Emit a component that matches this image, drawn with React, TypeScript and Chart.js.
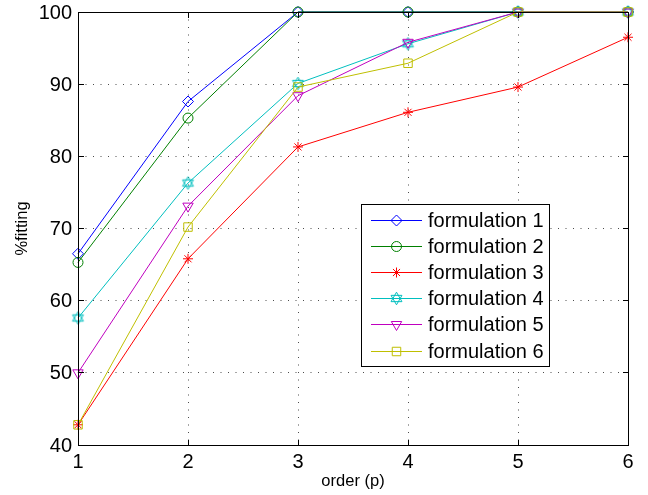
import React, { useEffect, useRef } from "react";
import { Chart, registerables } from "chart.js";
import { drawPoint } from "chart.js/helpers";

Chart.register(...registerables);

const orders = [1, 2, 3, 4, 5, 6];
const formulation1 = [66.5, 87.6, 100, 100, 100, 100];
const formulation2 = [65.3, 85.3, 100, 100, 100, 100];
const formulation3 = [42.8, 65.8, 81.3, 86.1, 89.6, 96.5];
const formulation4 = [57.6, 76.3, 90.1, 95.6, 100, 100];
const formulation5 = [50.0, 73.1, 88.4, 95.8, 100, 100];
const formulation6 = [42.8, 70.2, 89.6, 92.9, 100, 100];
const seriesLabels = [
  "formulation 1",
  "formulation 2",
  "formulation 3",
  "formulation 4",
  "formulation 5",
  "formulation 6",
];
const seriesColors = ["#0000FF", "#008000", "#FF0000", "#00BFBF", "#BF00BF", "#BFBF00"];
const xTicks = [1, 2, 3, 4, 5, 6];
const yTicks = [40, 50, 60, 70, 80, 90, 100];
const xTitle = "order (p)";
const yTitle = "%fitting";

const FONT = '"Liberation Sans", Arial, Helvetica, sans-serif';

function makeHexagram(color: string): HTMLCanvasElement {
  const c = document.createElement("canvas");
  c.width = 17;
  c.height = 17;
  const g = c.getContext("2d")!;
  g.strokeStyle = color;
  g.lineWidth = 1;
  const r = 6.3;
  const cx = 8.5;
  const cy = 8.5;
  for (const start of [-90, 90]) {
    g.beginPath();
    for (let k = 0; k < 3; k++) {
      const a = ((start + k * 120) * Math.PI) / 180;
      const px = cx + r * Math.cos(a);
      const py = cy + r * Math.sin(a);
      if (k === 0) g.moveTo(px, py);
      else g.lineTo(px, py);
    }
    g.closePath();
    g.stroke();
  }
  return c;
}

const align = (p: number) => Math.round(p - 0.5) + 0.5;

const framePlugin = {
  id: "matlabFrame",
  afterDraw(chart: any) {
    const ctx = chart.ctx as CanvasRenderingContext2D;
    const { left, right, top, bottom } = chart.chartArea;
    const xs = chart.scales.x;
    const ys = chart.scales.y;
    ctx.save();
    ctx.strokeStyle = "#000";
    ctx.lineWidth = 1;
    ctx.setLineDash([]);
    const L = align(left), R = align(right), T = align(top), B = align(bottom);
    ctx.strokeRect(L, T, R - L, B - T);
    const tl = 5.5;
    ctx.beginPath();
    for (const v of xTicks) {
      const px = align(xs.getPixelForValue(v));
      ctx.moveTo(px, B);
      ctx.lineTo(px, B - tl);
      ctx.moveTo(px, T);
      ctx.lineTo(px, T + tl);
    }
    for (const v of yTicks) {
      const py = align(ys.getPixelForValue(v));
      ctx.moveTo(L, py);
      ctx.lineTo(L + tl, py);
      ctx.moveTo(R, py);
      ctx.lineTo(R - tl, py);
    }
    ctx.stroke();

    // legend box
    const bl = 361.5, bt = 204.5, bw = 188, bh = 162;
    ctx.fillStyle = "#fff";
    ctx.fillRect(bl, bt, bw, bh);
    ctx.strokeStyle = "#000";
    ctx.strokeRect(bl, bt, bw, bh);
    const rowH = 26.1;
    chart.data.datasets.forEach((ds: any, i: number) => {
      const y = Math.round(220 + i * rowH) + 0.5;
      ctx.strokeStyle = ds.borderColor;
      ctx.lineWidth = 1;
      ctx.beginPath();
      ctx.moveTo(371, y);
      ctx.lineTo(422, y);
      ctx.stroke();
      ctx.fillStyle = "rgba(0,0,0,0)";
      drawPoint(
        ctx,
        {
          pointStyle: ds.pointStyle,
          rotation: ds.pointRotation || 0,
          radius: ds.pointRadius,
          borderWidth: 1,
        } as any,
        396.5,
        y
      );
      ctx.fillStyle = "#000";
      ctx.font = `20px ${FONT}`;
      ctx.textBaseline = "middle";
      ctx.textAlign = "left";
      ctx.fillText(ds.label, 428, y + 0.5);
    });
    ctx.restore();
  },
};

export default function App() {
  const ref = useRef<HTMLCanvasElement | null>(null);
  useEffect(() => {
    if (!ref.current) return;
    const series = [formulation1, formulation2, formulation3, formulation4, formulation5, formulation6];
    const styles: any[] = ["rectRot", "circle", "star", makeHexagram(seriesColors[3]), "triangle", "rect"];
    const radii = [5.5, 5, 5, 6, 6, 6];
    const rotations = [0, 0, 0, 0, 180, 0];
    const datasets = series.map((vals, i) => ({
      label: seriesLabels[i],
      data: orders.map((x, j) => ({ x, y: vals[j] })),
      borderColor: seriesColors[i],
      backgroundColor: "rgba(0,0,0,0)",
      borderWidth: 1,
      pointStyle: styles[i],
      pointRadius: radii[i],
      pointRotation: rotations[i],
      pointBorderColor: seriesColors[i],
      pointBackgroundColor: "rgba(0,0,0,0)",
      pointBorderWidth: 1,
      tension: 0,
      clip: false as any,
      order: 6 - i,
    }));
    const chart = new Chart(ref.current, {
      type: "line",
      data: { datasets },
      options: {
        animation: false,
        responsive: false,
        events: [],
        layout: { padding: { top: 12, right: 20, left: 0, bottom: 0 } },
        plugins: { legend: { display: false }, tooltip: { enabled: false } },
        scales: {
          x: {
            type: "linear",
            min: 1,
            max: 6,
            afterBuildTicks: (s: any) => {
              s.ticks = xTicks.map((v) => ({ value: v }));
            },
            afterFit: (s: any) => {
              s.height = 50;
              s.paddingLeft = 0;
              s.paddingRight = 0;
            },
            ticks: {
              color: "#000",
              font: { family: FONT, size: 20 },
              padding: 5,
              maxRotation: 0,
              autoSkip: false,
            },
            grid: { color: "rgba(0,0,0,0.7)", lineWidth: 1, drawTicks: false },
            border: { display: false, dash: [1, 6.5] },
            title: {
              display: true,
              text: xTitle,
              color: "#000",
              font: { family: FONT, size: 16.5 },
              padding: { top: 0, bottom: 4 },
            },
          },
          y: {
            type: "linear",
            min: 40,
            max: 100,
            afterBuildTicks: (s: any) => {
              s.ticks = yTicks.map((v) => ({ value: v }));
            },
            afterFit: (s: any) => {
              s.width = 78;
              s.paddingTop = 0;
              s.paddingBottom = 0;
            },
            ticks: {
              color: "#000",
              font: { family: FONT, size: 20 },
              padding: 6,
              labelOffset: 1,
              autoSkip: false,
            },
            grid: { color: "rgba(0,0,0,0.7)", lineWidth: 1, drawTicks: false },
            border: { display: false, dash: [1, 6.5] },
            title: {
              display: true,
              text: yTitle,
              color: "#000",
              font: { family: FONT, size: 16.5 },
              padding: { top: 13, bottom: 0 },
            },
          },
        },
      },
      plugins: [framePlugin],
    });
    return () => chart.destroy();
  }, []);
  return (
    <div style={{ position: "absolute", left: 0, top: 0, width: 648, height: 495, background: "#fff" }}>
      <canvas ref={ref} width={648} height={495} />
    </div>
  );
}
